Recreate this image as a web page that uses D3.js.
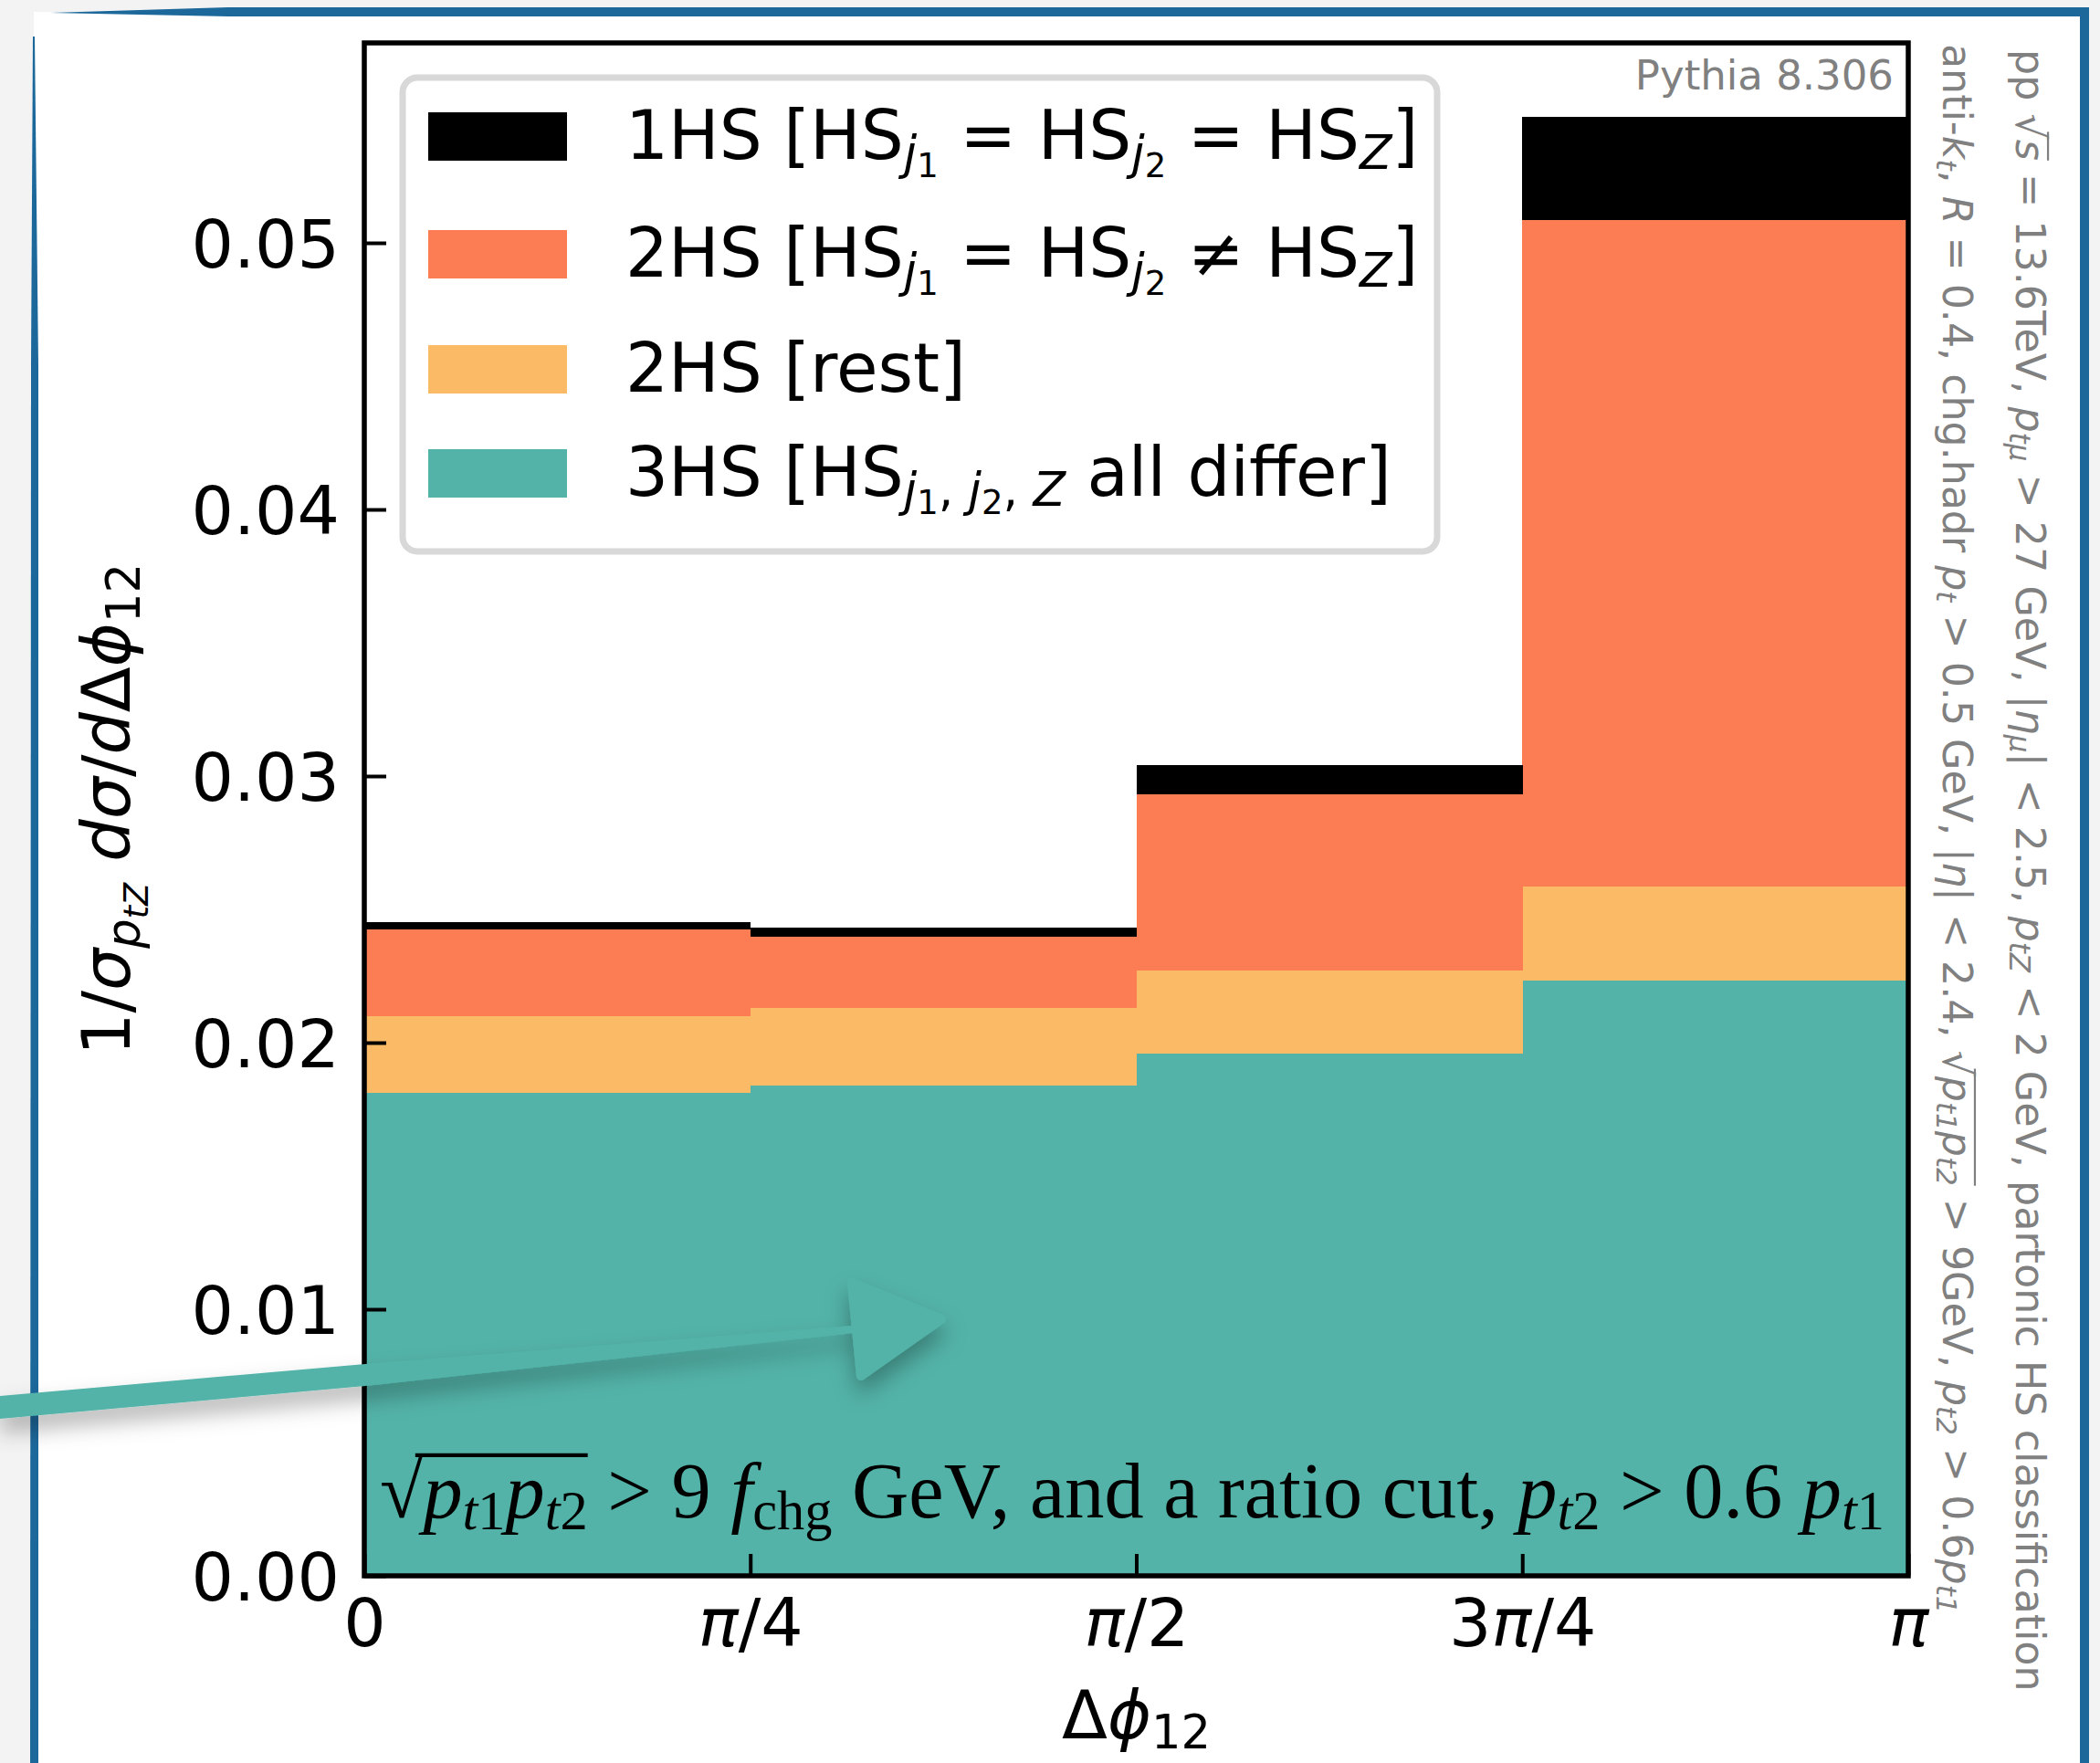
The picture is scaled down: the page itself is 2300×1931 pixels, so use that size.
<!DOCTYPE html>
<html>
<head>
<meta charset="utf-8">
<script src="https://cdn.jsdelivr.net/npm/d3@7"></script>
<style>
  body { margin: 0; background: #f3f3f3; }
  svg { display: block; }
  text { white-space: pre; }
</style>
</head>
<body>
<div id="container"></div>
<script>
/* DATA */
const binEdges = [0, Math.PI / 4, Math.PI / 2, 3 * Math.PI / 4, Math.PI];
// stacked components, bottom to top
const keys = ["3HS", "2HSrest", "2HSsame", "1HS"];
const val3HS     = [0.01812, 0.01839, 0.01959, 0.02234];
const val2HSrest = [0.00287, 0.00291, 0.00313, 0.00353];
const val2HSsame = [0.00325, 0.00266, 0.00659, 0.02499];
const val1HS     = [0.00029, 0.00036, 0.00111, 0.00388];
const colors = {"3HS": "#53b3a8", "2HSrest": "#fbbb66", "2HSsame": "#fc7c53", "1HS": "#000000"};

const yTicks = [0, 0.01, 0.02, 0.03, 0.04, 0.05];
const xTicks = [0, Math.PI / 4, Math.PI / 2, 3 * Math.PI / 4, Math.PI];
const xTickLabels = [
  ["0"],
  [{t: "π", it: 1}, "/4"],
  [{t: "π", it: 1}, "/2"],
  ["3", {t: "π", it: 1}, "/4"],
  [{t: "π", it: 1}]
];

// legend order, top to bottom
const legendKeys = ["1HS", "2HSsame", "2HSrest", "3HS"];
const legendLabels = [
  ["1HS [HS", {t: "j", it: 1, l: 1}, {t: "1", l: 2}, " = HS", {t: "j", it: 1, l: 1}, {t: "2", l: 2}, " = HS", {t: "Z", it: 1, l: 1}, "]"],
  ["2HS [HS", {t: "j", it: 1, l: 1}, {t: "1", l: 2}, " = HS", {t: "j", it: 1, l: 1}, {t: "2", l: 2}, " ≠ HS", {t: "Z", it: 1, l: 1}, "]"],
  ["2HS [rest]"],
  ["3HS [HS", {t: "j", it: 1, l: 1}, {t: "1", l: 2}, {t: ", ", l: 1}, {t: "j", it: 1, l: 1}, {t: "2", l: 2}, {t: ", ", l: 1}, {t: "Z", it: 1, l: 1}, " all differ]"]
];

const yLabel = ["1/", {t: "σ", it: 1}, {t: "p", it: 1, l: 1}, {t: "tZ", it: 1, l: 2}, " ", {t: "dσ", it: 1}, "/", {t: "d", it: 1}, "Δ", {t: "ϕ", it: 1}, {t: "12", l: 1}];
const xLabel = ["Δ", {t: "ϕ", it: 1}, {t: "12", l: 1}];

const sideLine1 = ["pp ", {t: "√", ol: 1}, {t: "s", it: 1, ol: 1}, " = 13.6TeV, ", {t: "p", it: 1}, {t: "tμ", it: 1, l: 1}, " > 27 GeV, |", {t: "η", it: 1}, {t: "μ", it: 1, l: 1}, "| < 2.5, ", {t: "p", it: 1}, {t: "tZ", it: 1, l: 1}, " < 2 GeV, partonic HS classification"];
const sideLine2 = ["anti-", {t: "k", it: 1}, {t: "t", it: 1, l: 1}, ", ", {t: "R", it: 1}, " = 0.4, chg.hadr ", {t: "p", it: 1}, {t: "t", it: 1, l: 1}, " > 0.5 GeV, |", {t: "η", it: 1}, "| < 2.4, ", {t: "√", ol: 1}, {t: "p", it: 1, ol: 1}, {t: "t1", it: 1, l: 1, ol: 1}, {t: "p", it: 1, ol: 1}, {t: "t2", it: 1, l: 1, ol: 1}, " > 9GeV, ", {t: "p", it: 1}, {t: "t2", it: 1, l: 1}, " > 0.6", {t: "p", it: 1}, {t: "t1", it: 1, l: 1}];
const cutText = [{t: "√", ol: 1}, {t: "p", it: 1, ol: 1}, {t: "t", it: 1, l: 1, ol: 1}, {t: "1", l: 1, ol: 1}, {t: "p", it: 1, ol: 1}, {t: "t", it: 1, l: 1, ol: 1}, {t: "2", l: 1, ol: 1}, " > 9 ", {t: "f", it: 1}, {t: "chg", l: 1}, " GeV, and a ratio cut, ", {t: "p", it: 1}, {t: "t", it: 1, l: 1}, {t: "2", l: 1}, " > 0.6 ", {t: "p", it: 1}, {t: "t", it: 1, l: 1}, {t: "1", l: 1}];

/* LAYOUT */
const W = 2300, H = 1931;
const plot = {left: 399, right: 2090, top: 47, bottom: 1726};
const font = "DejaVu Sans";
const fs = 73;

const xScale = d3.scaleLinear().domain([0, Math.PI]).range([plot.left, plot.right]);
const yScale = d3.scaleLinear().domain([0, 0.0575]).range([plot.bottom, plot.top]);

// mathtext-like rich text with subscripts; text sits at local (0,0)
function rich(sel, parts, size) {
  let cur = 0;
  parts.forEach(p => {
    const o = typeof p === "string" ? {t: p} : p;
    const lvl = o.l || 0;
    const off = [0, 0.15, 0.27][lvl] * size;
    const ts = sel.append("tspan")
      .text(o.t)
      .attr("font-size", size * [1, 0.7, 0.5][lvl])
      .attr("dy", off - cur)
      .classed("ol", !!o.ol);
    if (o.it) ts.attr("font-style", "italic");
    cur = off;
  });
  // one overline across all the marked pieces (the sqrt bar)
  const marked = sel.selectAll("tspan.ol").nodes();
  if (marked.length) {
    const boxes = marked.map(n => n.getBBox());
    const x0 = d3.min(boxes, b => b.x) + size * 0.45;
    const x1 = d3.max(boxes, b => b.x + b.width);
    const base = +sel.attr("y") || 0;
    d3.select(sel.node().parentNode).append("line")
      .attr("class", "overline")
      .attr("x1", x0).attr("x2", x1)
      .attr("y1", base - size * 0.79).attr("y2", base - size * 0.79)
      .attr("stroke", sel.attr("fill")).attr("stroke-width", size * 0.05);
  }
}

// build text, then rescale the font so it spans the wanted length
function fitted(sel, parts, size, len) {
  rich(sel, parts, size);
  const natural = sel.node().getComputedTextLength();
  sel.selectAll("tspan").remove();
  d3.select(sel.node().parentNode).selectAll("line.overline").remove();
  rich(sel, parts, size * len / natural);
}

const svg = d3.select("#container").append("svg")
  .attr("width", W).attr("height", H)
  .style("font-family", font);

const defs = svg.append("defs");
const shadow = defs.append("filter").attr("id", "shadow")
  .attr("x", "-20%").attr("y", "-50%").attr("width", "140%").attr("height", "300%");
shadow.append("feDropShadow")
  .attr("dx", 0).attr("dy", 14).attr("stdDeviation", 12)
  .attr("flood-color", "#000").attr("flood-opacity", 0.3);

/* SLIDE FRAME */
svg.append("rect").attr("width", W).attr("height", H).attr("fill", "#f3f3f3");
svg.append("rect").attr("x", 37).attr("y", 13).attr("width", 2246).attr("height", H).attr("fill", "#fff");
const blue = "#1c689b";
svg.append("path").attr("fill", blue)
  .attr("d", "M55,14 L250,8 L2288,8 L2288,18 L250,18 Z");
svg.append("path").attr("fill", blue)
  .attr("d", "M36,40 L38,40 L42,400 L42,1931 L33,1931 L34,400 Z");
svg.append("rect").attr("fill", blue).attr("x", 2278).attr("y", 8).attr("width", 10).attr("height", H);

/* BARS */
const rows = val3HS.map((_, i) => ({
  x0: binEdges[i], x1: binEdges[i + 1],
  "3HS": val3HS[i], "2HSrest": val2HSrest[i], "2HSsame": val2HSsame[i], "1HS": val1HS[i]
}));
const series = d3.stack().keys(keys)(rows);

const g = svg.append("g");
g.selectAll("g.layer")
  .data(series)
  .join("g")
  .attr("class", "layer")
  .attr("fill", s => colors[s.key])
  .selectAll("rect")
  .data(s => s)
  .join("rect")
  .attr("shape-rendering", "crispEdges")
  .attr("x", d => xScale(d.data.x0))
  .attr("width", d => xScale(d.data.x1) - xScale(d.data.x0) + 0.5)
  .attr("y", d => yScale(d[1]))
  .attr("height", d => yScale(d[0]) - yScale(d[1]));

/* CUT ANNOTATION (serif, inside plot) */
const cutG = svg.append("g").attr("transform", "translate(416,1662)");
const cut = cutG.append("text")
  .style("font-family", "Liberation Serif")
  .attr("fill", "#000");
fitted(cut, cutText, 70, 1648);

/* PYTHIA LABEL */
svg.append("text")
  .attr("x", 2074).attr("y", 98)
  .attr("text-anchor", "end")
  .attr("font-size", 45)
  .attr("fill", "#808080")
  .text("Pythia 8.306");

/* LEGEND */
const legend = svg.append("g");
legend.append("rect")
  .attr("x", 441).attr("y", 85).attr("width", 1133).attr("height", 519)
  .attr("rx", 16)
  .attr("fill", "#fff").attr("fill-opacity", 0.85)
  .attr("stroke", "#d8d8d8").attr("stroke-width", 7);
const rowY = [149, 278, 404, 518];
legendKeys.forEach((k, i) => {
  legend.append("rect")
    .attr("x", 469).attr("y", rowY[i] - 26).attr("width", 152).attr("height", 53)
    .attr("fill", colors[k]);
  const t = legend.append("text")
    .attr("x", 685).attr("y", rowY[i] + 25)
    .attr("fill", "#000");
  rich(t, legendLabels[i], 74);
});

/* AXES */
const yAxis = svg.append("g")
  .attr("transform", `translate(${plot.left},0)`)
  .call(d3.axisLeft(yScale).tickValues(yTicks).tickFormat(d3.format(".2f"))
    .tickSizeInner(-24).tickSizeOuter(0).tickPadding(27));
yAxis.select(".domain").remove();
yAxis.selectAll(".tick line").attr("stroke", "#000").attr("stroke-width", 4);
yAxis.selectAll(".tick text")
  .attr("font-family", font).attr("font-size", fs).attr("fill", "#000")
  .attr("dy", "0.36em");

const xAxis = svg.append("g")
  .attr("transform", `translate(0,${plot.bottom})`)
  .call(d3.axisBottom(xScale).tickValues(xTicks).tickFormat("")
    .tickSizeInner(-24).tickSizeOuter(0).tickPadding(0));
xAxis.select(".domain").remove();
xAxis.selectAll(".tick line").attr("stroke", "#000").attr("stroke-width", 4);
xAxis.selectAll(".tick text")
  .attr("font-family", font).attr("font-size", fs).attr("fill", "#000")
  .attr("y", 77).attr("dy", 0)
  .each(function (d, i) { rich(d3.select(this), xTickLabels[i], fs); });

// frame
svg.append("rect")
  .attr("x", plot.left).attr("y", plot.top)
  .attr("width", plot.right - plot.left).attr("height", plot.bottom - plot.top)
  .attr("fill", "none").attr("stroke", "#000").attr("stroke-width", 5.5);

// axis titles
const xt = svg.append("text")
  .attr("x", (plot.left + plot.right) / 2).attr("y", 1904)
  .attr("text-anchor", "middle").attr("fill", "#000");
rich(xt, xLabel, fs);

const yt = svg.append("text")
  .attr("transform", `translate(142,${(plot.top + plot.bottom) / 2}) rotate(-90)`)
  .attr("text-anchor", "middle").attr("fill", "#000");
rich(yt, yLabel, fs);

/* SIDE TEXT (rotated) */
const s1 = svg.append("g").attr("transform", "translate(2208,54) rotate(90)")
  .append("text").attr("fill", "#808080");
fitted(s1, sideLine1, 45, 1799);

const s2 = svg.append("g").attr("transform", "translate(2128,48) rotate(90)")
  .append("text").attr("fill", "#808080");
fitted(s2, sideLine2, 45, 1720);

/* ARROW OVERLAY */
const arrow = svg.append("g").attr("filter", "url(#shadow)").attr("fill", "#53b3a8");
arrow.append("path")
  .attr("d", "M0,1529 L400,1494 L935,1452 L935,1460 L400,1518 L0,1554 Z");
arrow.append("path")
  .attr("d", "M933,1405 L1031,1445 L943,1507 Z")
  .attr("stroke", "#53b3a8").attr("stroke-width", 10).attr("stroke-linejoin", "round");
</script>
</body>
</html>
